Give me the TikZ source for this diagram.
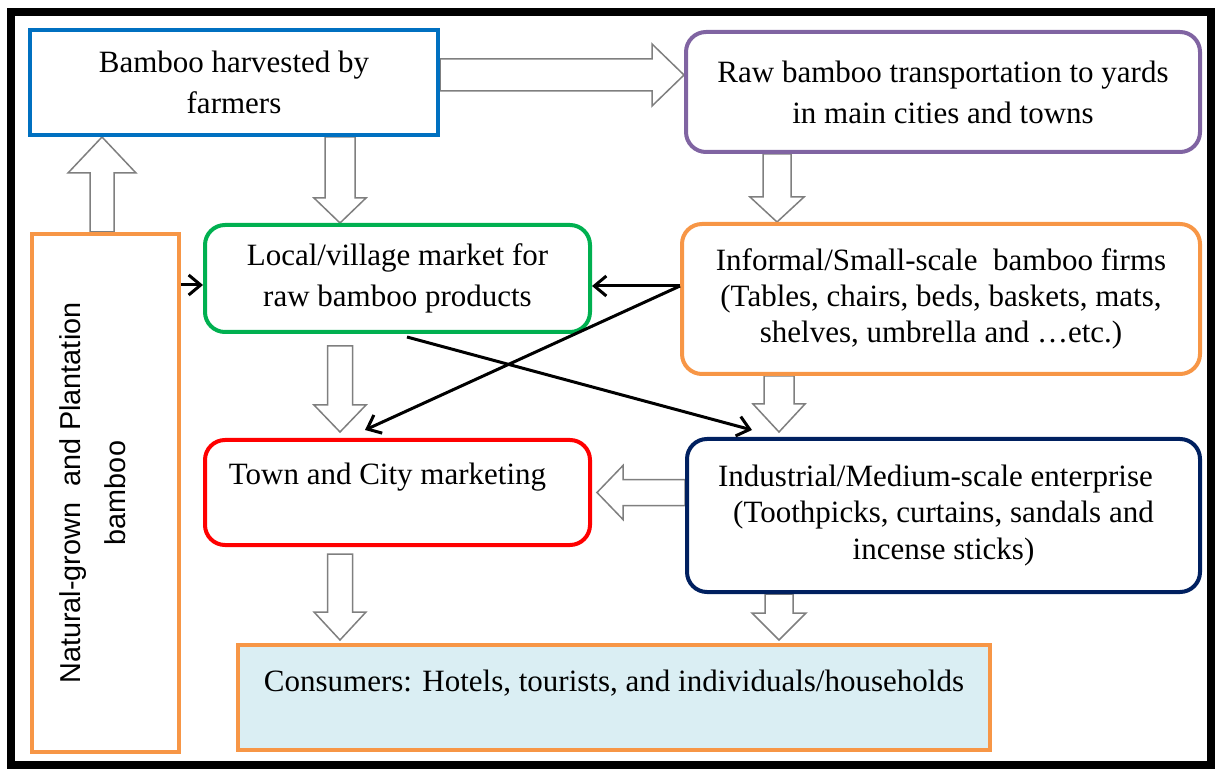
\documentclass[tikz,border=0pt]{standalone}
\usepackage{fontspec}
\setmainfont{Liberation Serif}
\newfontfamily\sansf{Liberation Sans}
\usetikzlibrary{calc,arrows.meta,backgrounds}
\definecolor{cblue}{HTML}{0070C0}
\definecolor{cpurple}{HTML}{8064A2}
\definecolor{cgreen}{HTML}{00B050}
\definecolor{corange}{HTML}{F79646}
\definecolor{cred}{HTML}{FF0000}
\definecolor{cnavy}{HTML}{002060}
\definecolor{cfill}{HTML}{DAEEF3}
\definecolor{cgray}{HTML}{7F7F7F}
\tikzset{
 box/.style={draw, line width=2pt, inner sep=0pt, anchor=north west, font=\fontsize{15.5}{20.5}\selectfont},
 rbox/.style={box, rounded corners=10pt},
 blk/.style={draw=cgray, fill=white, line width=0.75pt, line join=miter},
 thinarr/.style={line width=1.5pt, -{Straight Barb[length=6pt,width=10pt,line width=1.5pt]}},
}
% #1 start (only its y/x used), #2 tip, #3 shaft half width, #4 head half width, #5 head length
\newcommand\blkdown[5]{\draw[blk] let \p1=(#1), \p2=(#2) in
  (\x2-#3,\y1) -- (\x2-#3,\y2+#5) -- (\x2-#4,\y2+#5) -- (\x2,\y2) -- (\x2+#4,\y2+#5) -- (\x2+#3,\y2+#5) -- (\x2+#3,\y1) -- cycle;}
\newcommand\blkup[5]{\draw[blk] let \p1=(#1), \p2=(#2) in
  (\x2-#3,\y1) -- (\x2-#3,\y2-#5) -- (\x2-#4,\y2-#5) -- (\x2,\y2) -- (\x2+#4,\y2-#5) -- (\x2+#3,\y2-#5) -- (\x2+#3,\y1) -- cycle;}
\newcommand\blkright[5]{\draw[blk] let \p1=(#1), \p2=(#2) in
  (\x1,\y2+#3) -- (\x2-#5,\y2+#3) -- (\x2-#5,\y2+#4) -- (\x2,\y2) -- (\x2-#5,\y2-#4) -- (\x2-#5,\y2-#3) -- (\x1,\y2-#3) -- cycle;}
\newcommand\blkleft[5]{\draw[blk] let \p1=(#1), \p2=(#2) in
  (\x1,\y2+#3) -- (\x2+#5,\y2+#3) -- (\x2+#5,\y2+#4) -- (\x2,\y2) -- (\x2+#5,\y2-#4) -- (\x2+#5,\y2-#3) -- (\x1,\y2-#3) -- cycle;}
\begin{document}
\begin{tikzpicture}[x=0.5pt,y=-0.5pt]
\useasboundingbox (0,0) rectangle (1219,769);
\draw[line width=4pt] (11,12) rectangle (1211,765);

\node[box, draw=cblue, minimum width=204pt, minimum height=52.5pt, align=center] (b1) at (28,28)
  {Bamboo harvested by\\farmers};
\node[rbox, draw=cpurple, minimum width=257pt, minimum height=60pt, align=center] (b2) at (684,30)
  {Raw bamboo transportation to yards\\in main cities and towns};
\node[rbox, draw=cgreen, minimum width=192.5pt, minimum height=53.5pt, align=center] (b3) at (203,223)
  {Local/village market for\\raw bamboo products};
\node[rbox, draw=corange, minimum width=259pt, minimum height=75pt, align=center,
  font=\fontsize{15.5}{18}\selectfont] (b4) at (680,222)
  {Informal/Small-scale\ \ bamboo firms\\(Tables, chairs, beds, baskets, mats,\\shelves, umbrella and \dots etc.)};
\node[rbox, draw=cred, minimum width=192.5pt, minimum height=52.5pt, text depth=18.5pt] (b5) at (203,438)
  {Town and City marketing\kern10pt};
\node[rbox, draw=cnavy, minimum width=256.5pt, minimum height=76.5pt, align=center,
  font=\fontsize{15.5}{18.25}\selectfont] (b6) at (685,437)
  {Industrial/Medium-scale enterprise\kern8pt\\(Toothpicks, curtains, sandals and\\incense sticks)};
\node[box, draw=corange, fill=cfill, minimum width=376pt, minimum height=52.5pt, text depth=17pt] (b7) at (236,643)
  {Consumers: Hotels, tourists, and individuals/households};
\node[box, draw=corange, minimum width=73.5pt, minimum height=259pt] (b8) at (30,232) {};
\node[rotate=90, align=center, font=\sansf\fontsize{14.4}{22.5}\selectfont, inner sep=0pt] (b8t)
  at ([xshift=-6.5pt]b8.center)
  {Natural-grown\ \ and Plantation\\bamboo};

\begin{scope}[on background layer]
\blkright{b1.east}{[yshift=8.5pt]b2.west}{8pt}{15.5pt}{16pt}
\blkdown{b1.south}{[xshift=-28.75pt]b3.north}{7.5pt}{13pt}{12.5pt}
\blkup{b8.north}{[xshift=-66pt]b1.south}{6pt}{17pt}{18pt}
\blkdown{b2.south}{[xshift=-82pt]b4.north}{7pt}{13.5pt}{12.5pt}
\blkdown{[yshift=-6pt]b3.south}{[xshift=-28.75pt,yshift=3pt]b5.north}{6.25pt}{13pt}{13.5pt}
\blkdown{b4.south}{[xshift=-82.25pt,yshift=2.5pt]b6.north}{7.5pt}{13pt}{14pt}
\blkleft{b6.west}{[xshift=2.5pt]b5.east}{6.5pt}{13.5pt}{13pt}
\blkdown{[yshift=-3.5pt]b5.south}{[xshift=-137pt,yshift=1.5pt]b7.north}{6.25pt}{13pt}{14pt}
\blkdown{b6.south}{[xshift=82.5pt,yshift=1.5pt]b7.north}{7pt}{13.5pt}{13.5pt}
\end{scope}

\coordinate (t1) at ([yshift=-3.25pt]b3.west);
\coordinate (t2) at ([yshift=6.5pt]b4.west);
\draw[thinarr] (b8.east |- t1) -- (t1);
\draw[thinarr] (t2) -- (b3.east |- t2);
\draw[thinarr] (t2) -- ([xshift=-16.25pt,yshift=4pt]b5.north);
\draw[thinarr] ([xshift=4.75pt,yshift=-1.5pt]b3.south) -- ([xshift=-95.75pt,yshift=3.5pt]b6.north);
\end{tikzpicture}
\end{document}
